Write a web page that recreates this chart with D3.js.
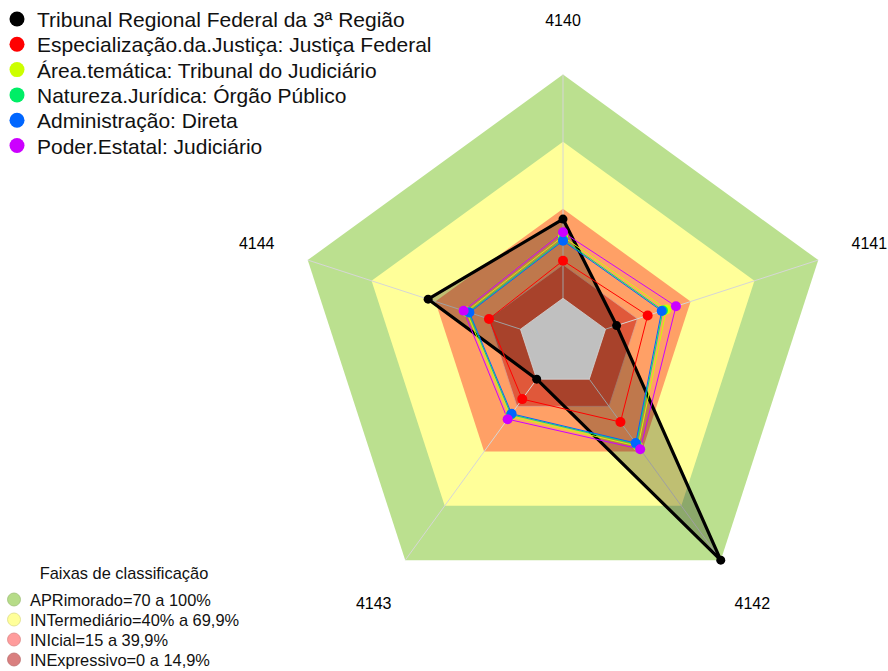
<!DOCTYPE html>
<html>
<head>
<meta charset="utf-8">
<script src="https://cdn.jsdelivr.net/npm/d3@7"></script>
<style>
  body { margin: 0; background: #fff; }
  svg { display: block; font-family: Arial, "Liberation Sans", sans-serif; }
</style>
</head>
<body>
<svg id="chart" width="888" height="671"></svg>
<script>
// chart data
var axes = ["4140", "4141", "4142", "4143", "4144"];
var seriesNames = [
    "Tribunal Regional Federal da 3ª Região",
    "Especialização.da.Justiça: Justiça Federal",
    "Área.temática: Tribunal do Judiciário",
    "Natureza.Jurídica: Órgão Público",
    "Administração: Direta",
    "Poder.Estatal: Judiciário"
];
var seriesColors = ["#000000", "#ff0000", "#ccff00", "#00ee66", "#0066ff", "#cc00ff"];
var trf3 = [35.4, 5.2, 100, 0, 43.4];
var justicaFederal = [16.8, 19.8, 23.7, 11.0, 14.8];
var tribunalJudiciario = [27.6, 28.6, 37.1, 20.5, 25.4];
var orgaoPublico = [26.3, 27.0, 35.9, 19.6, 24.5];
var direta = [25.7, 26.4, 35.3, 19.1, 24.0];
var judiciario = [29.5, 33.1, 38.7, 22.1, 26.7];
var seriesValues = [trf3, justicaFederal, tribunalJudiciario, orgaoPublico, direta, judiciario];

// classification bands (upper limit of each)
var faixas = [100, 70, 40, 15];
var faixaFill = ["#bbe08f", "#ffff99", "#ffa066", "#e0583a"];
var faixaLegend = ["APRimorado=70 a 100%", "INTermediário=40% a 69,9%", "INIcial=15 a 39,9%", "INExpressivo=0 a 14,9%"];
var faixaLegendColor = ["#b6dc88", "#ffff99", "#ff9c9c", "#d97f7f"];

var svg = d3.select("#chart");
var cx = 563, cy = 343, R = 268.4;

// value 0 sits at 1/6 of the radius (hole in the middle)
var r = d3.scaleLinear().domain([0, 100]).range([R / 6, R]);
var angle = d3.scaleLinear().domain([0, axes.length]).range([-Math.PI / 2, 1.5 * Math.PI]);

function pt(v, i) {
    var a = angle(i);
    return [cx + r(v) * Math.cos(a), cy + r(v) * Math.sin(a)];
}
function ring(v) {
    return axes.map(function (d, i) { return pt(v, i); });
}
var line = d3.line().curve(d3.curveLinearClosed);

var g = svg.append("g");

// bands
g.selectAll(".band")
    .data(faixas)
    .enter().append("path")
    .attr("class", "band")
    .attr("d", function (d) { return line(ring(d)); })
    .attr("fill", function (d, i) { return faixaFill[i]; })
    .attr("stroke", function (d, i) { return i == 3 ? "#d8a090" : "none"; })
    .attr("stroke-width", 0.8);

// spokes
g.selectAll(".spoke")
    .data(axes)
    .enter().append("line")
    .attr("x1", function (d, i) { return pt(0, i)[0]; })
    .attr("y1", function (d, i) { return pt(0, i)[1]; })
    .attr("x2", function (d, i) { return pt(100, i)[0]; })
    .attr("y2", function (d, i) { return pt(100, i)[1]; })
    .attr("stroke", "#d6d6d6")
    .attr("stroke-width", 1);

// fill of the main series
g.append("path")
    .attr("d", line(trf3.map(pt)))
    .attr("fill", "rgba(0,0,0,0.25)")
    .attr("stroke", "none");

// gray center
g.append("path")
    .attr("d", line(ring(0)))
    .attr("fill", "#c0c0c0")
    .attr("stroke", "#d6d6d6")
    .attr("stroke-width", 0.8);

// series lines
g.selectAll(".serie")
    .data(seriesValues)
    .enter().append("path")
    .attr("class", "serie")
    .attr("d", function (d) { return line(d.map(pt)); })
    .attr("fill", "none")
    .attr("stroke", function (d, i) { return seriesColors[i]; })
    .attr("stroke-width", function (d, i) { return i == 0 ? 3.2 : 1; })
    .attr("stroke-linejoin", "round");

// series points
seriesValues.forEach(function (vals, s) {
    g.selectAll(".p" + s)
        .data(vals)
        .enter().append("circle")
        .attr("cx", function (d, i) { return pt(d, i)[0]; })
        .attr("cy", function (d, i) { return pt(d, i)[1]; })
        .attr("r", s == 0 ? 4.5 : 5)
        .attr("fill", seriesColors[s]);
});

// axis labels
svg.selectAll(".axlab")
    .data(axes)
    .enter().append("text")
    .attr("x", function (d, i) { return cx + 1.2 * R * Math.cos(angle(i)); })
    .attr("y", function (d, i) { return cy + 1.2 * R * Math.sin(angle(i)); })
    .attr("text-anchor", "middle")
    .attr("dominant-baseline", "central")
    .attr("font-size", 16)
    .attr("fill", "#000")
    .text(function (d) { return d; });

// top legend
var leg = svg.append("g");
seriesNames.forEach(function (n, i) {
    var y = 19 + i * 25.3;
    leg.append("circle").attr("cx", 17).attr("cy", y).attr("r", 7.5).attr("fill", seriesColors[i]);
    leg.append("text").attr("x", 37).attr("y", y + 0.5).attr("dominant-baseline", "central")
        .attr("font-size", 21).attr("fill", "#111").text(n);
});

// bottom legend
var leg2 = svg.append("g");
leg2.append("text").attr("x", 124).attr("y", 579).attr("text-anchor", "middle")
    .attr("font-size", 16.4).attr("fill", "#111").text("Faixas de classificação");
faixaLegend.forEach(function (n, i) {
    var y = 599.5 + i * 20;
    leg2.append("circle").attr("cx", 14).attr("cy", y).attr("r", 6.5)
        .attr("fill", faixaLegendColor[i])
        .attr("stroke", d3.color(faixaLegendColor[i]).darker(0.4))
        .attr("stroke-width", 0.8);
    leg2.append("text").attr("x", 30).attr("y", y + 0.5).attr("dominant-baseline", "central")
        .attr("font-size", 16.4).attr("fill", "#111").text(n);
});
</script>
</body>
</html>
